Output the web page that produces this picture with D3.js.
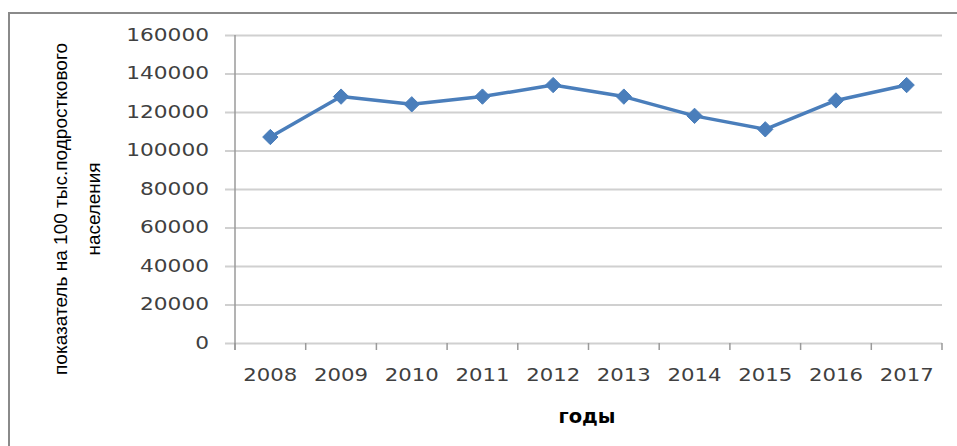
<!DOCTYPE html>
<html>
<head>
<meta charset="utf-8">
<script src="https://cdn.jsdelivr.net/npm/d3@7"></script>
<style>
    body { margin: 0; background: #fff; }
    svg { display: block; }
</style>
</head>
<body>
<div id="chart"></div>
<script>
const years = ['2008', '2009', '2010', '2011', '2012', '2013', '2014', '2015', '2016', '2017'];
const values = [107000, 128000, 124000, 128000, 134000, 128000, 118000, 111000, 126000, 134000];
const yTicks = [0, 20000, 40000, 60000, 80000, 100000, 120000, 140000, 160000];
const yTitleLines = ['показатель на 100 тыс.подросткового', 'населения'];
const xTitle = 'годы';

const width = 957, height = 446;
const margin = { top: 35, right: 15, bottom: 103, left: 235 }; // plot area 235..942 x 35..343
const plotW = width - margin.left - margin.right,
    plotH = height - margin.top - margin.bottom;

const svg = d3.select('#chart').append('svg')
    .attr('width', width)
    .attr('height', height);

// chart frame (cut off at right and bottom in the original)
svg.append('rect')
    .attr('x', 9).attr('y', 13)
    .attr('width', 1000).attr('height', 500)
    .attr('fill', 'none')
    .attr('stroke', '#8a8a8a')
    .attr('stroke-width', 2);

const g = svg.append('g')
    .attr('transform', `translate(${margin.left},${margin.top})`);

const x = d3.scaleBand()
    .domain(years)
    .range([0, plotW]);

const y = d3.scaleLinear()
    .domain([0, 160000])
    .range([plotH, 0]);

// horizontal gridlines + y tick labels
const yAxis = g.append('g')
    .call(d3.axisLeft(y).tickValues(yTicks).tickSize(10).tickPadding(16).tickFormat(d => d));
yAxis.select('.domain').remove();
yAxis.selectAll('.tick line')
    .attr('x2', plotW)
    .attr('x1', -10)
    .attr('stroke', '#d0d0d0')
    .attr('stroke-width', 2);
yAxis.selectAll('.tick text')
    .attr('fill', '#404040')
    .style('font-family', 'DejaVu Sans, sans-serif')
    .style('font-size', '17px')
    .attr('textLength', d => String(d).length * 13.8)
    .attr('lengthAdjust', 'spacingAndGlyphs');

// x axis with ticks between categories
const xAxis = g.append('g')
    .attr('transform', `translate(0,${plotH})`)
    .call(d3.axisBottom(x).tickSize(0).tickPadding(25));
xAxis.select('.domain').remove();
xAxis.selectAll('.tick text')
    .attr('fill', '#404040')
    .style('font-family', 'DejaVu Sans, sans-serif')
    .style('font-size', '18.5px')
    .attr('textLength', 54)
    .attr('lengthAdjust', 'spacingAndGlyphs');

const boundaries = years.map(d => x(d)).concat([plotW]);
g.append('g').selectAll('line')
    .data(boundaries)
    .enter().append('line')
    .attr('x1', d => d).attr('x2', d => d)
    .attr('y1', plotH).attr('y2', plotH + 7)
    .attr('stroke', '#9a9a9a')
    .attr('stroke-width', 1.5);

// vertical axis line
g.append('line')
    .attr('x1', 0).attr('x2', 0)
    .attr('y1', 0).attr('y2', plotH + 7)
    .attr('stroke', '#9a9a9a')
    .attr('stroke-width', 1.5);

// data line
const line = d3.line()
    .x((d, i) => x(years[i]) + x.bandwidth() / 2)
    .y(d => y(d));

g.append('path')
    .datum(values)
    .attr('fill', 'none')
    .attr('stroke', '#4a7ebb')
    .attr('stroke-width', 3.5)
    .attr('stroke-linejoin', 'round')
    .attr('d', line);

// diamond markers
g.append('g').selectAll('path')
    .data(values)
    .enter().append('path')
    .attr('d', d3.symbol().type(d3.symbolDiamond2).size(150))
    .attr('transform', (d, i) => `translate(${x(years[i]) + x.bandwidth() / 2},${y(d)})`)
    .attr('fill', '#4a7ebb')
    .attr('stroke', '#4a7ebb')
    .attr('stroke-width', 1);

// y axis title (two lines, rotated)
const yTitle = svg.append('g')
    .attr('transform', 'translate(0,209) rotate(-90)');
yTitle.append('text')
    .attr('x', 0).attr('y', 67)
    .attr('text-anchor', 'middle')
    .attr('textLength', 332)
    .attr('lengthAdjust', 'spacingAndGlyphs')
    .style('font-family', 'Liberation Sans, sans-serif')
    .style('font-size', '19px')
    .attr('fill', '#000')
    .text(yTitleLines[0]);
yTitle.append('text')
    .attr('x', 0).attr('y', 100)
    .attr('text-anchor', 'middle')
    .attr('textLength', 93)
    .attr('lengthAdjust', 'spacingAndGlyphs')
    .style('font-family', 'Liberation Sans, sans-serif')
    .style('font-size', '19px')
    .attr('fill', '#000')
    .text(yTitleLines[1]);

// x axis title
svg.append('text')
    .attr('x', 587)
    .attr('y', 423)
    .attr('text-anchor', 'middle')
    .attr('textLength', 57)
    .attr('lengthAdjust', 'spacingAndGlyphs')
    .style('font-family', 'DejaVu Sans, sans-serif')
    .style('font-size', '20px')
    .style('font-weight', 'bold')
    .attr('fill', '#000')
    .text(xTitle);
</script>
</body>
</html>
